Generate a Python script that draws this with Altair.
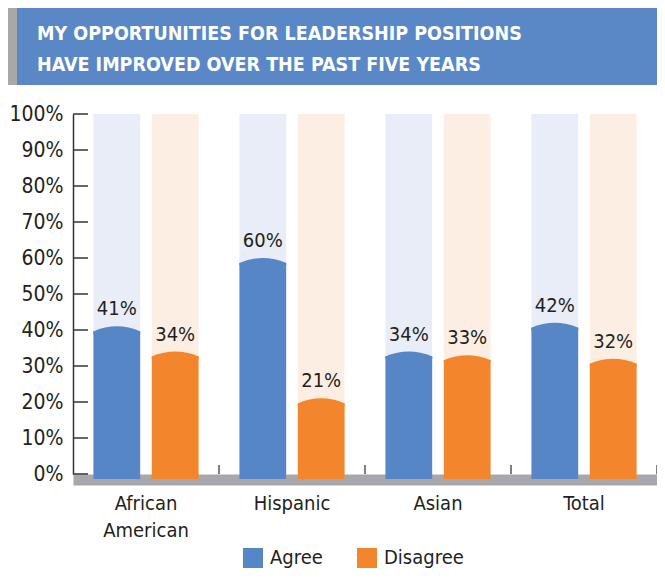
import altair as alt
import pandas as pd

categories = ["African American", "Hispanic", "Asian", "Total"]
series = ["Agree", "Disagree"]
agree = [41, 60, 34, 42]
disagree = [34, 21, 33, 32]
y_ticks = [0, 10, 20, 30, 40, 50, 60, 70, 80, 90, 100]
title_lines = ["MY OPPORTUNITIES FOR LEADERSHIP POSITIONS",
               "HAVE IMPROVED OVER THE PAST FIVE YEARS"]

main_colors = ["#5686c6", "#f3852c"]
light_colors = ["#e9edf7", "#fdeee3"]
text_color = "#231f20"
FONT = "DejaVu Sans Condensed, sans-serif"

rows = []
for c, a, d in zip(categories, agree, disagree):
    rows.append({"cat": c, "series": "Agree", "value": a})
    rows.append({"cat": c, "series": "Disagree", "value": d})
df = pd.DataFrame(rows)
tick_df = pd.DataFrame({"t": y_ticks})
cat_df = pd.DataFrame({"cat": categories})
one = pd.DataFrame({"k": [0]})

x_enc = alt.X("cat:N", sort=categories, title=None,
              scale=alt.Scale(paddingInner=0, paddingOuter=0))
xo_enc = alt.XOffset("series:N", sort=series,
                     scale=alt.Scale(paddingInner=0.2, paddingOuter=0.35))
y_scale = alt.Scale(domain=[0, 100], nice=False)

# header band
band_gray = alt.Chart(one).mark_rect(color="#a8a8a8").encode(
    x=alt.value(-65), x2=alt.value(-56), y=alt.value(-107), y2=alt.value(-29))
band_blue = alt.Chart(one).mark_rect(color="#5a88c6").encode(
    x=alt.value(-56), x2=alt.value(600), y=alt.value(-107), y2=alt.value(-29))
title_text = alt.Chart(one).mark_text(
    align="left", baseline="alphabetic", font=FONT, fontSize=19.5,
    fontWeight="bold", color="white", lineHeight=31,
).encode(x=alt.value(-36), y=alt.value(-74), text=alt.value(title_lines))

bg = alt.Chart(df).mark_bar().encode(
    x=x_enc, xOffset=xo_enc,
    y=alt.datum(100, scale=y_scale, title=None),
    color=alt.Color("series:N", sort=series,
                    scale=alt.Scale(domain=series, range=light_colors), legend=None),
)

bars = alt.Chart(df).mark_bar(yOffset=5).encode(
    x=x_enc, xOffset=xo_enc,
    y=alt.Y("value:Q", scale=y_scale, title=None),
    color=alt.Color("series:N", sort=series,
                    scale=alt.Scale(domain=series, range=main_colors), title=None),
)

dome_path = "M -1 0.1 L -1 0 Q 0 -0.43 1 0 L 1 0.1 Z"
domes = alt.Chart(df).mark_point(shape=dome_path, size=2209, filled=True,
                                 opacity=1, strokeWidth=0, yOffset=5).encode(
    x=x_enc, xOffset=xo_enc,
    y=alt.Y("value:Q", scale=y_scale),
    color=alt.Color("series:N", sort=series,
                    scale=alt.Scale(domain=series, range=main_colors), legend=None),
)

labels = alt.Chart(df).transform_calculate(
    lab="datum.value + '%'"
).mark_text(baseline="bottom", dy=-7, fontSize=20, font=FONT, color=text_color).encode(
    x=x_enc, xOffset=xo_enc,
    y=alt.Y("value:Q", scale=y_scale),
    text="lab:N",
)

yticks = alt.Chart(tick_df).mark_rule(color="#333333", strokeWidth=1.5).encode(
    x=alt.value(0), x2=alt.value(15),
    y=alt.Y("t:Q", scale=y_scale),
)

bticks = alt.Chart(cat_df).mark_rule(color="#555555", strokeWidth=1.5).encode(
    x=alt.X("cat:N", sort=categories, bandPosition=1),
    y=alt.datum(0), y2=alt.datum(2.5),
)

chart = alt.layer(band_gray, band_blue, title_text, bg, bars, domes, labels,
                  yticks, bticks).resolve_scale(
    color="independent"
).properties(
    width=584, height=360,
    autosize="none",
    padding={"left": 65, "top": 106, "right": 0, "bottom": 96},
).configure_view(stroke=None).configure_axisY(
    ticks=False, domainColor="#333333", domainWidth=1.5, labelPadding=10,
    labelFontSize=21, labelFont=FONT, labelColor=text_color, grid=False,
    values=y_ticks, labelExpr="datum.value + '%'",
).configure_axisX(
    ticks=False, domainColor="#a7a8ab", domainWidth=11, offset=5.5,
    labelPadding=14, labelFontSize=20, labelFont=FONT, labelColor=text_color,
    labelAngle=0, labelLineHeight=27, grid=False,
    labelExpr="datum.label == 'African American' ? ['African', 'American'] : datum.label",
).configure_legend(
    orient="none", legendX=170, legendY=434, direction="horizontal",
    symbolType="square", symbolSize=400, symbolStrokeWidth=0,
    labelFontSize=20, labelFont=FONT, labelColor=text_color,
    labelOffset=7, columnPadding=34, padding=0,
)

chart.save("out.html", embed_options={"renderer": "svg", "actions": False})
